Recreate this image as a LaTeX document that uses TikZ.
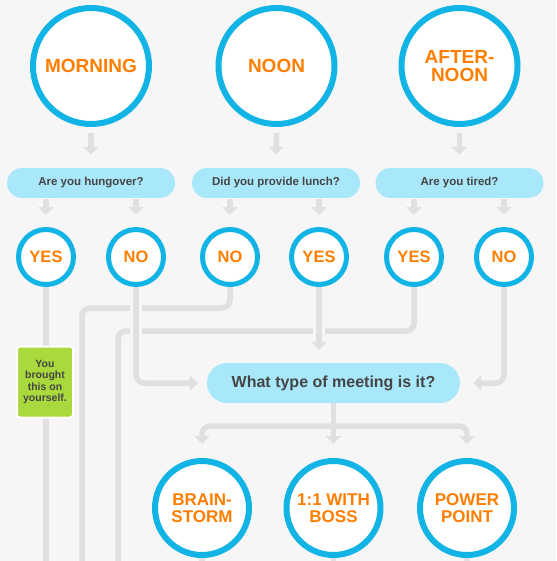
\documentclass[tikz,border=0pt]{standalone}
\usepackage{fontspec}
\setmainfont{Liberation Sans}
\usetikzlibrary{arrows.meta,backgrounds}
\definecolor{bgc}{HTML}{F6F6F6}
\definecolor{ring}{HTML}{12B4E6}
\definecolor{org}{HTML}{FF7E00}
\definecolor{pill}{HTML}{A9E8FA}
\definecolor{txt}{HTML}{454545}
\definecolor{conn}{HTML}{E0E0E2}
\definecolor{grn}{HTML}{A9D93C}
\pgfdeclareradialshading{innerglow}{\pgfpoint{0bp}{0bp}}{color(0bp)=(white); color(40bp)=(white); color(50bp)=(black!8)}
\begin{document}
\begin{tikzpicture}[x=1pt,y=-1pt,
  bigc/.style={circle, draw=ring, line width=6pt, shading=innerglow, minimum size=116pt, inner sep=0pt, align=center, text=org, font=\fontsize{19}{18}\selectfont\bfseries},
  smallc/.style={circle, draw=ring, line width=5pt, fill=white, minimum size=55pt, inner sep=0pt, text=org, font=\fontsize{16.5}{18}\selectfont\bfseries},
  botc/.style={circle, draw=ring, line width=6pt, shading=innerglow, minimum size=94pt, inner sep=0pt, align=center, text=org, font=\fontsize{17}{17.5}\selectfont\bfseries},
  qpill/.style={rectangle, rounded corners=15pt, fill=pill, minimum width=168pt, minimum height=30pt, inner sep=0pt, text=txt, font=\fontsize{11.5}{13}\selectfont\bfseries},
  mpill/.style={rectangle, rounded corners=20pt, fill=pill, minimum width=253pt, minimum height=40pt, inner sep=0pt, text=txt, font=\fontsize{16}{18}\selectfont\bfseries},
  notebox/.style={rectangle, rounded corners=3pt, fill=grn, draw=white, line width=2pt, minimum width=56pt, minimum height=71pt, inner sep=0pt, align=center, text=txt, font=\fontsize{10.5}{11.3}\selectfont\bfseries},
  conn/.style={draw=conn, line width=5.5pt, rounded corners=8pt},
  arr/.style={conn, -{Triangle[width=15pt,length=8pt]}},
  bridge/.style={preaction={draw=bgc, line width=12pt}}
]
\useasboundingbox (0,0) rectangle (556,561);
% nodes
\node[bigc] (morning) at (91,66) {MORNING};
\node[bigc] (noon) at (276.5,66) {NOON};
\node[bigc] (afternoon) at (459.5,66) {AFTER-\\NOON};
\node[qpill] (q1) at (91,183) {Are you hungover?};
\node[qpill] (q2) at (276,183) {Did you provide lunch?};
\node[qpill] (q3) at (459.5,183) {Are you tired?};
\node[smallc] (yes1) at (46,257) {YES};
\node[smallc] (no1) at (136,257) {NO};
\node[smallc] (no2) at (230,257) {NO};
\node[smallc] (yes2) at (319,257) {YES};
\node[smallc] (yes3) at (414,257) {YES};
\node[smallc] (no3) at (504,257) {NO};
\node[mpill] (meet) at (333.5,383) {What type of meeting is it?};
\node[notebox] (note) at (45,382) {You\\brought\\this on\\yourself.};
\node[botc] (brain) at (202,508) {BRAIN-\\STORM};
\node[botc] (boss) at (333.5,508) {1:1 WITH\\BOSS};
\node[botc] (pp) at (467,508) {POWER\\POINT};
\coordinate (bot0) at (46,561);
\coordinate (bot1) at (82,561);
\coordinate (bot2) at (118,561);
\coordinate (bot3) at (202,561);
\coordinate (bot4) at (333.5,561);
\coordinate (bot5) at (467,561);
\coordinate (j) at (333.5,426);
\begin{scope}[on background layer]
\fill[bgc] (0,0) rectangle (556,561);
% top arrows
\draw[arr, shorten <=6pt, shorten >=13pt] (morning.south) -- (q1.north);
\draw[arr, shorten <=6pt, shorten >=13pt] (noon.south) -- (q2.north);
\draw[arr, shorten <=6pt, shorten >=13pt] (afternoon.south) -- (q3.north);
\draw[arr, shorten <=1pt, shorten >=12pt] (yes1 |- q1.south) -- (yes1.north);
\draw[arr, shorten <=1pt, shorten >=12pt] (no1 |- q1.south) -- (no1.north);
\draw[arr, shorten <=1pt, shorten >=12pt] (no2 |- q2.south) -- (no2.north);
\draw[arr, shorten <=1pt, shorten >=12pt] (yes2 |- q2.south) -- (yes2.north);
\draw[arr, shorten <=1pt, shorten >=12pt] (yes3 |- q3.south) -- (yes3.north);
\draw[arr, shorten <=1pt, shorten >=12pt] (no3 |- q3.south) -- (no3.north);
% middle routing
\draw[conn] (yes1.south) -- (bot0);
\draw[conn] (no2.south) |- (82,308) -- (bot1);
\draw[conn] (yes3.south) |- (118,331) -- (bot2);
\draw[arr, bridge, shorten >=9pt] (no1.south) |- (meet.west);
\draw[arr, bridge, shorten >=13pt] (yes2.south) -- (yes2 |- meet.north);
\draw[arr, shorten >=13pt] (no3.south) |- (meet.east);
% meeting to bottom
\draw[arr, shorten >=14pt] (meet.south) -- (boss.north);
\draw[arr, shorten >=14pt] (j) -| (brain.north);
\draw[arr, shorten >=14pt] (j) -| (pp.north);
\draw[conn] (brain.south) -- (bot3);
\draw[conn] (boss.south) -- (bot4);
\draw[conn] (pp.south) -- (bot5);
\end{scope}
\end{tikzpicture}
\end{document}
